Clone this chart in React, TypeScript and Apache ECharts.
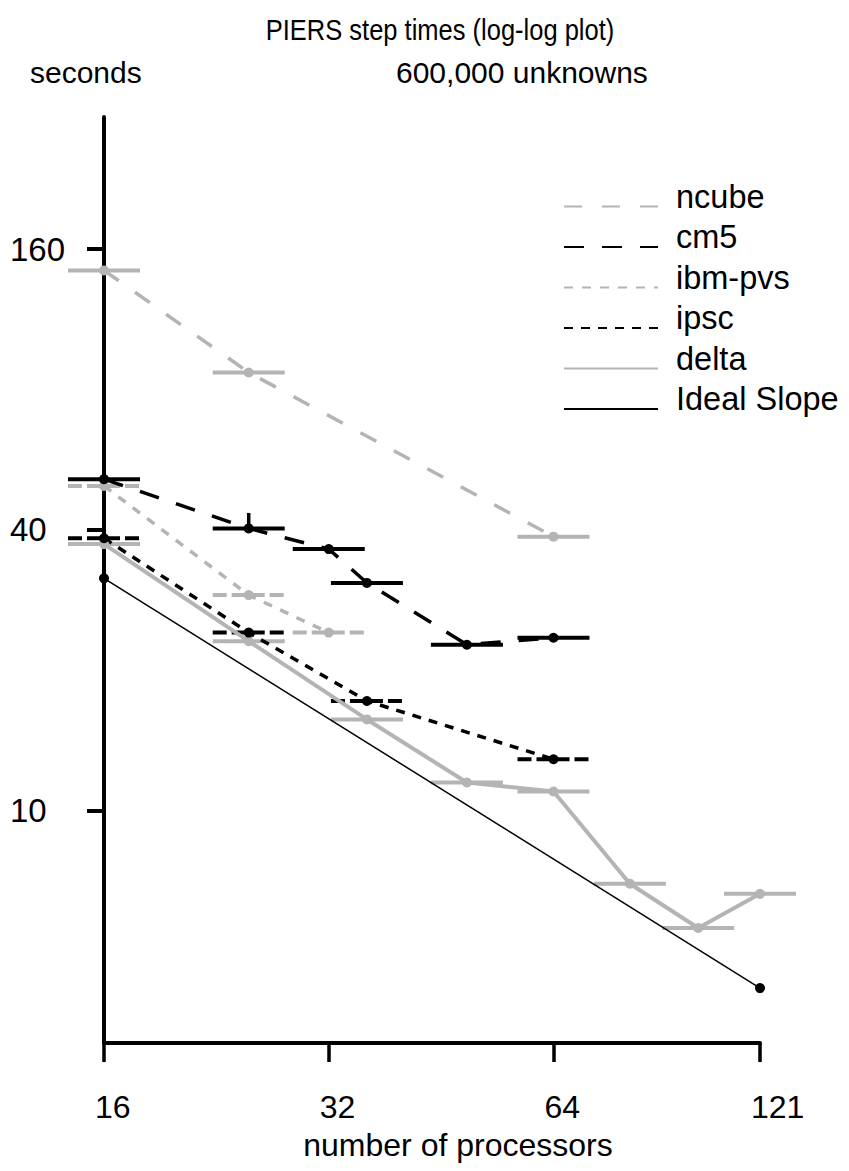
import React, { useEffect, useRef } from 'react';
import * as echarts from 'echarts';

const xTicks = [16, 32, 64, 121];
const yTicks = [10, 40, 160];
const legendNames = ['ncube', 'cm5', 'ibm-pvs', 'ipsc', 'delta', 'Ideal Slope'];

const ncubeX = [16, 25, 64];
const ncubeY = [144, 87, 38.7];
const cm5X = [16, 25, 32, 36, 49, 64];
const cm5Y = [51.4, 40.3, 36.4, 30.8, 22.7, 23.5];
const cm5Upper = [0, 43.5, 0, 0, 0, 0];
const ibmX = [16, 25, 32];
const ibmY = [49.7, 29.0, 24.1];
const ipscX = [16, 25, 36, 64];
const ipscY = [38.4, 24.1, 17.2, 12.9];
const deltaX = [16, 25, 36, 49, 64, 81, 100, 121];
const deltaY = [37.3, 23.1, 15.7, 11.5, 11.0, 6.98, 5.61, 6.64];
const idealX = [16, 121];
const idealY = [31.5, 4.17];

const GRAY = '#b4b4b4';
const BLACK = '#000000';
const FONT = '"Liberation Sans", Arial, Helvetica, sans-serif';

const pairs = (xs: number[], ys: number[], up?: number[]) =>
  xs.map((x, i) => (up ? [x, ys[i], up[i]] : [x, ys[i], 0]));

const mkBars = (name: string, xs: number[], ys: number[], color: string, dash: number[] | null, up?: number[]) => ({
  type: 'custom',
  name: name + ' bars',
  silent: true,
  clip: false,
  z: 1,
  data: pairs(xs, ys, up),
  renderItem: (_params: any, api: any) => {
    const p = api.coord([api.value(0), api.value(1)]);
    const children: any[] = [
      {
        type: 'line',
        shape: { x1: p[0] - 36, y1: p[1], x2: p[0] + 36, y2: p[1] },
        style: { stroke: color, lineWidth: 4, lineDash: dash || undefined, fill: null },
      },
    ];
    const u = api.value(2);
    if (u && u > 0) {
      const q = api.coord([api.value(0), u]);
      children.push({
        type: 'line',
        shape: { x1: p[0], y1: p[1], x2: p[0], y2: q[1] },
        style: { stroke: color, lineWidth: 3.5, fill: null },
      });
    }
    return { type: 'group', children };
  },
});

const mkLine = (name: string, xs: number[], ys: number[], color: string, width: number, dash: any) => ({
  type: 'line',
  name,
  data: xs.map((x, i) => [x, ys[i]]),
  symbol: 'circle',
  symbolSize: 10,
  showSymbol: true,
  clip: false,
  z: 3,
  lineStyle: { color, width, type: dash },
  itemStyle: { color },
});

export default function App() {
  const ref = useRef<HTMLDivElement>(null);
  useEffect(() => {
    if (!ref.current) return;
    const chart = echarts.init(ref.current, null, { renderer: 'svg' });
    chart.setOption({
      animation: false,
      backgroundColor: '#ffffff',
      textStyle: { fontFamily: FONT },
      grid: { left: 104, right: 89, top: 117, bottom: 128, containLabel: false },
      graphic: [
        {
          type: 'text', x: 440, y: 30, scaleY: 1.18,
          style: { text: 'PIERS step times (log-log plot)', font: `25.5px ${FONT}`, fill: BLACK, align: 'center', verticalAlign: 'middle' },
        },
        { type: 'text', x: 30, y: 72, style: { text: 'seconds', font: `30px ${FONT}`, fill: BLACK, align: 'left', verticalAlign: 'middle' } },
        { type: 'text', x: 396, y: 72, style: { text: '600,000 unknowns', font: `30px ${FONT}`, fill: BLACK, align: 'left', verticalAlign: 'middle' } },
      ],
      legend: {
        data: legendNames,
        orient: 'vertical',
        left: 563,
        top: 180,
        padding: 0,
        itemWidth: 94,
        itemHeight: 20,
        itemGap: -12.5,
        selectedMode: false,
        itemStyle: { opacity: 0 },
        formatter: (name: string) => name + '\n',
        textStyle: { fontSize: 32.5, lineHeight: 20, color: BLACK, fontFamily: FONT, padding: [0, 0, 0, 13] },
      },
      xAxis: {
        type: 'log',
        logBase: 2,
        min: 16,
        max: 121,
        name: 'number of processors',
        nameLocation: 'middle',
        nameGap: 86,
        nameTextStyle: { fontSize: 32, lineHeight: 32, color: BLACK, fontFamily: FONT, padding: [0, 0, 0, 52] },
        axisLine: { show: true, lineStyle: { color: BLACK, width: 4 } },
        axisTick: { show: true, customValues: xTicks, length: 19, inside: false, lineStyle: { color: BLACK, width: 3.5 } },
        axisLabel: {
          customValues: xTicks,
          margin: 48,
          fontSize: 32,
          lineHeight: 32,
          color: BLACK,
          fontFamily: FONT,
          formatter: (v: number) => '{a|' + Math.round(v) + '}',
          rich: { a: { width: 18, align: 'left', fontSize: 32, lineHeight: 32, fontFamily: FONT, color: BLACK } },
        },
        splitLine: { show: false },
        minorTick: { show: false },
      },
      yAxis: {
        type: 'log',
        logBase: 2,
        min: 3.18,
        max: 307,
        axisLine: { show: true, lineStyle: { color: BLACK, width: 4 } },
        axisTick: { show: true, customValues: yTicks, length: 17, inside: false, lineStyle: { color: BLACK, width: 4 } },
        axisLabel: {
          customValues: yTicks,
          margin: 94,
          align: 'left',
          fontSize: 33,
          color: BLACK,
          fontFamily: FONT,
          formatter: (v: number) => String(Math.round(v)),
        },
        splitLine: { show: false },
        minorTick: { show: false },
      },
      series: [
        mkBars('ncube', ncubeX, ncubeY, GRAY, null),
        mkBars('ibm-pvs', ibmX, ibmY, GRAY, [14, 5]),
        mkBars('delta', deltaX, deltaY, GRAY, null),
        mkBars('cm5', cm5X, cm5Y, BLACK, null, cm5Upper),
        mkBars('ipsc', ipscX, ipscY, BLACK, [14, 5]),
        mkLine('ncube', ncubeX, ncubeY, GRAY, 3.5, [18, 20]),
        mkLine('ibm-pvs', ibmX, ibmY, GRAY, 3.5, [9, 9]),
        mkLine('delta', deltaX, deltaY, GRAY, 4, 'solid'),
        mkLine('cm5', cm5X, cm5Y, BLACK, 3.5, [20, 18]),
        mkLine('ipsc', ipscX, ipscY, BLACK, 3.5, [9, 8]),
        mkLine('Ideal Slope', idealX, idealY, BLACK, 1.5, 'solid'),
      ],
    });
    return () => chart.dispose();
  }, []);
  return <div ref={ref} style={{ position: 'absolute', left: 0, top: 0, width: 849, height: 1171, background: '#fff' }} />;
}
